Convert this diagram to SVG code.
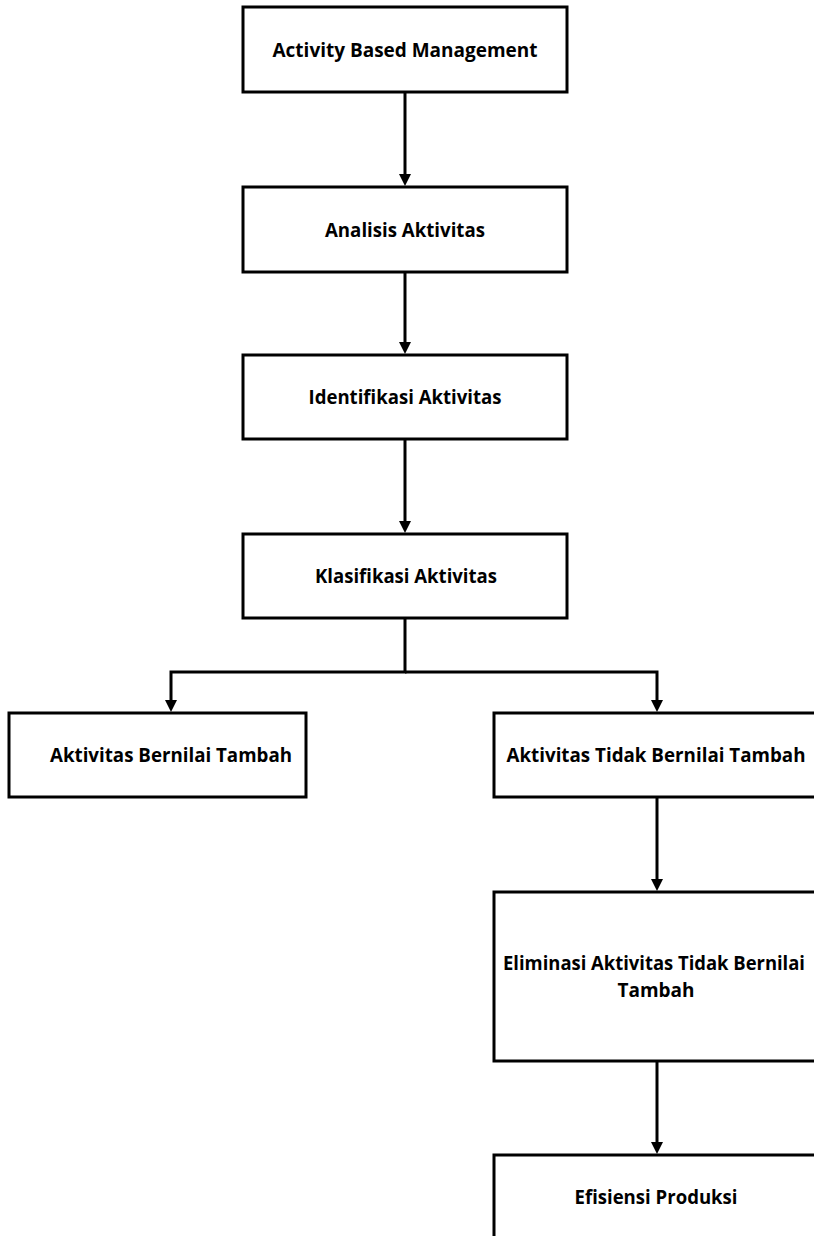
<svg xmlns="http://www.w3.org/2000/svg" width="814" height="1236" viewBox="0 0 814 1236">
<defs>
<marker id="arr" viewBox="0 0 12 12" refX="2" refY="6" markerWidth="12" markerHeight="12" markerUnits="userSpaceOnUse" orient="auto">
<path d="M0,0 L12,6 L0,12 z" fill="#000"/>
</marker>
<style>
.box{fill:#fff;stroke:#000;stroke-width:3}
.lbl{font-family:"Open Sans","Noto Sans",sans-serif;font-weight:bold;font-size:19px;fill:#000;text-anchor:middle}
.con{fill:none;stroke:#000;stroke-width:3}
</style>
</defs>
<rect width="814" height="1236" fill="#fff"/>
<g id="connectors">
<path class="con" d="M405,92 V176" marker-end="url(#arr)"/>
<path class="con" d="M405,272 V344" marker-end="url(#arr)"/>
<path class="con" d="M405,439 V523" marker-end="url(#arr)"/>
<path class="con" d="M405,618 V672 H171 V702" marker-end="url(#arr)"/>
<path class="con" d="M405,672 H657 V702" marker-end="url(#arr)"/>
<path class="con" d="M657,797 V881" marker-end="url(#arr)"/>
<path class="con" d="M657,1061 V1144" marker-end="url(#arr)"/>
</g>
<g id="n1"><rect class="box" x="243" y="7" width="324" height="85"/><text class="lbl" x="405" y="57" textLength="265" lengthAdjust="spacingAndGlyphs">Activity Based Management</text></g>
<g id="n2"><rect class="box" x="243" y="187" width="324" height="85"/><text class="lbl" x="405" y="237" textLength="160" lengthAdjust="spacingAndGlyphs">Analisis Aktivitas</text></g>
<g id="n3"><rect class="box" x="243" y="355" width="324" height="84"/><text class="lbl" x="405" y="404" textLength="193" lengthAdjust="spacingAndGlyphs">Identifikasi Aktivitas</text></g>
<g id="n4"><rect class="box" x="243" y="534" width="324" height="84"/><text class="lbl" x="406" y="583" textLength="182" lengthAdjust="spacingAndGlyphs">Klasifikasi Aktivitas</text></g>
<g id="n5"><rect class="box" x="9" y="713" width="297" height="84"/><text class="lbl" x="171" y="762" textLength="242" lengthAdjust="spacingAndGlyphs">Aktivitas Bernilai Tambah</text></g>
<g id="n6"><rect class="box" x="494" y="713" width="330" height="84"/><text class="lbl" x="656" y="762" textLength="299" lengthAdjust="spacingAndGlyphs">Aktivitas Tidak Bernilai Tambah</text></g>
<g id="n7"><rect class="box" x="494" y="892" width="330" height="169"/><text class="lbl" x="654" y="970" textLength="302" lengthAdjust="spacingAndGlyphs">Eliminasi Aktivitas Tidak Bernilai</text><text class="lbl" x="656" y="997" textLength="77" lengthAdjust="spacingAndGlyphs">Tambah</text></g>
<g id="n8"><rect class="box" x="494" y="1155" width="330" height="100"/><text class="lbl" x="656" y="1204" textLength="163" lengthAdjust="spacingAndGlyphs">Efisiensi Produksi</text></g>
</svg>
